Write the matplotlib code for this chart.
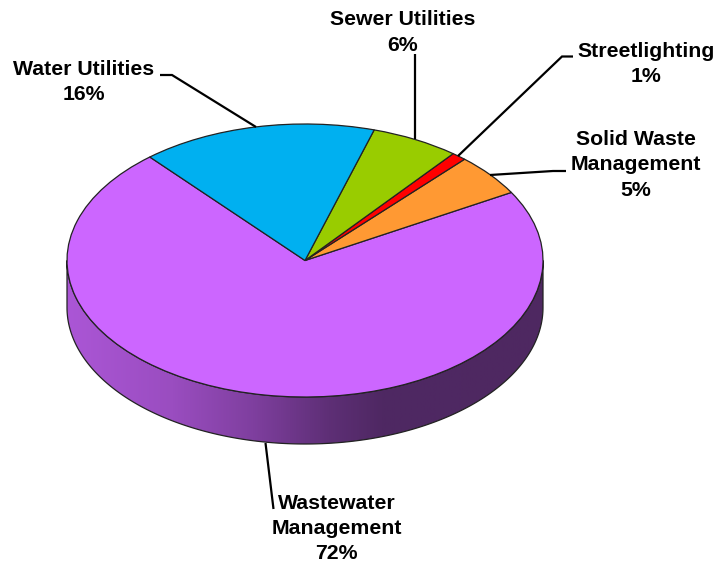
import numpy as np
import matplotlib
matplotlib.use("Agg")
import matplotlib.pyplot as plt
from matplotlib.patches import PathPatch
from matplotlib.path import Path
from matplotlib.colors import LinearSegmentedColormap

# Slices run counter-clockwise from the Wastewater wedge
categories = ["Wastewater\nManagement", "Solid Waste\nManagement", "Streetlighting", "Sewer Utilities", "Water Utilities"]
shares = [72, 5, 1, 6, 16]
slice_colors = ["#CC66FF", "#FF9933", "#FF0000", "#99CC00", "#00B0F0"]

W, H = 718, 562
CX, CY, RX, RY, DEPTH = 305, 260.5, 238, 136.5, 47
EDGE = "#222222"

plt.rcParams["font.family"] = ["Liberation Sans", "DejaVu Sans"]
fig = plt.figure(figsize=(W / 100, H / 100), dpi=100)
ax = fig.add_axes([0, 0, 1, 1])

# Rim of the disc: horizontal shading clipped to the extruded outline
t = np.linspace(np.pi, 2 * np.pi, 240)
xs = CX + RX * np.cos(t)
ys = CY - RY * np.sin(t)
outline = np.vstack([
    np.column_stack([xs, ys]),
    np.column_stack([xs[::-1], ys[::-1] + DEPTH]),
    [[xs[0], ys[0]]],
])
rim_path = Path(outline, closed=True)

stops = [(0.0, "#AB56D6"), (0.22, "#9A4DC0"), (0.39, "#7F3F9F"), (0.55, "#5E2F76"),
         (0.66, "#4F2863"), (1.0, "#4E2861")]
rim_cmap = LinearSegmentedColormap.from_list("rim", stops)

ax.set_xlim(0, W)
ax.set_ylim(H, 0)
ax.axis("off")

# Pie lives in its own overlay axes, squashed so the circle becomes the top ellipse
pie_ax = fig.add_axes([0, 0, 1, 1], zorder=1)
pie_ax.patch.set_alpha(0)
pie_ax.pie(shares, colors=slice_colors, startangle=130.7, counterclock=True, radius=1,
           wedgeprops=dict(edgecolor=EDGE, linewidth=0.9))
pie_ax.set_aspect("auto")
pie_ax.set_xlim(-CX / RX, (W - CX) / RX)
pie_ax.set_ylim(-(H - CY) / RY, CY / RY)
pie_ax.axis("off")

grad = np.linspace(0, 1, 512)[None, :]
im = ax.imshow(grad, cmap=rim_cmap, extent=[CX - RX, CX + RX, CY + RY + DEPTH, CY - RY],
               aspect="auto", zorder=1)
rim = PathPatch(rim_path, facecolor="none", edgecolor=EDGE, linewidth=0.9, transform=ax.transData, zorder=2)
ax.add_patch(rim)
im.set_clip_path(rim)
ax.set_xlim(0, W)
ax.set_ylim(H, 0)

# Labels and leader lines sit above everything
top = fig.add_axes([0, 0, 1, 1], zorder=2)
top.patch.set_alpha(0)
top.set_xlim(0, W)
top.set_ylim(H, 0)
top.axis("off")

leaders = [
    [(265.5, 443), (273.5, 509)],
    [(490, 175), (553, 171), (566, 171)],
    [(458, 156), (562, 56.5), (573, 56.5)],
    [(415, 139), (415, 54)],
    [(256, 127), (172, 75), (160, 75)],
]
label_centers = [(336.5, 528.5), (635.5, 165), (646, 64), (402.5, 32.5), (84, 82)]

for name, share, path, (lx, ly) in zip(categories, shares, leaders, label_centers):
    px, py = zip(*path)
    top.plot(px, py, color="black", lw=1.6, solid_capstyle="butt", solid_joinstyle="miter")
    top.text(lx, ly, f"{name}\n{share}%", ha="center", va="center", fontsize=15.3,
             fontweight="bold", color="black", linespacing=1.42)

fig.savefig("out.png", dpi=100, facecolor="white")
